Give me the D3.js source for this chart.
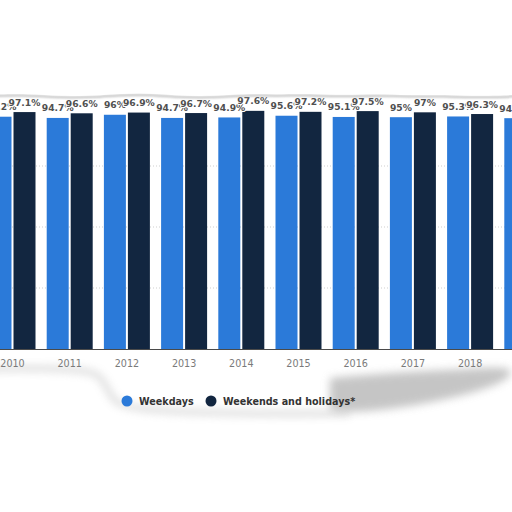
<!DOCTYPE html>
<html>
<head>
<meta charset="utf-8">
<script src="https://cdn.jsdelivr.net/npm/d3@7"></script>
<style>
  html, body { margin: 0; padding: 0; background: #fff; }
  svg { display: block; }
</style>
</head>
<body>
<div id="chart"></div>
<script>
const years = ['2010', '2011', '2012', '2013', '2014', '2015', '2016', '2017', '2018', '2019'];
const weekdays = [95.2, 94.7, 96, 94.7, 94.9, 95.6, 95.1, 95, 95.3, 94.6];
const weekends = [97.1, 96.6, 96.9, 96.7, 97.6, 97.2, 97.5, 97, 96.3, null];
const seriesNames = ['Weekdays', 'Weekends and holidays*'];
const gridTicks = [25, 50, 75];

const width = 512;
const height = 512;
const colors = ['#2b7ad9', '#122640'];
const font = 'DejaVu Sans, Verdana, sans-serif';

const svg = d3.select('#chart')
  .append('svg')
  .attr('width', width)
  .attr('height', height);

const defs = svg.append('defs');
defs.append('filter').attr('id', 'soft')
  .attr('x', '-20%').attr('y', '-50%').attr('width', '140%').attr('height', '200%')
  .append('feGaussianBlur').attr('stdDeviation', 4);
defs.append('filter').attr('id', 'thin')
  .attr('x', '-10%').attr('y', '-100%').attr('width', '120%').attr('height', '300%')
  .append('feGaussianBlur').attr('stdDeviation', 1.2);

// torn paper shadows (decoration)
const line = d3.line().curve(d3.curveBasis);
const shadows = svg.append('g');
shadows.append('path')
  .attr('d', line([[-10, 369], [40, 368], [80, 370], [98, 373], [106, 386], [112, 398], [122, 408], [200, 413], [300, 414], [350, 413]]))
  .attr('fill', 'none').attr('stroke', '#a5a5a5').attr('stroke-width', 5)
  .attr('opacity', 0.45).attr('filter', 'url(#soft)');
shadows.append('path')
  .attr('d', line([[330, 378], [400, 372], [470, 369], [515, 366], [510, 380], [470, 394], [420, 405], [360, 413], [330, 410]]) + 'Z')
  .attr('fill', '#adadad').attr('opacity', 0.7).attr('filter', 'url(#soft)');

const y = d3.scaleLinear().domain([0, 100]).range([349, 105]);
const step = 57.2;
const x0 = d3.scaleBand().domain(years)
  .range([12.5 - step / 2, 12.5 - step / 2 + step * years.length])
  .paddingInner(0).paddingOuter(0);
const x1 = d3.scaleBand().domain(seriesNames)
  .range([(step - 46) / 2, (step + 46) / 2])
  .paddingInner(2 / 24);

// gridlines
svg.append('g').selectAll('line')
  .data(gridTicks)
  .enter()
  .append('line')
  .attr('x1', 0).attr('x2', width)
  .attr('y1', d => y(d)).attr('y2', d => y(d))
  .attr('stroke', '#cfcfcf')
  .attr('stroke-dasharray', '1,2');

const groups = svg.append('g').selectAll('g')
  .data(years.map((yr, i) => ({ yr, vals: [weekdays[i], weekends[i]] })))
  .enter()
  .append('g')
  .attr('transform', d => `translate(${x0(d.yr)},0)`);

groups.selectAll('rect')
  .data(d => d.vals.map((v, k) => ({ v, k })).filter(e => e.v != null))
  .enter()
  .append('rect')
  .attr('x', e => x1(seriesNames[e.k]))
  .attr('width', x1.bandwidth())
  .attr('y', e => y(e.v))
  .attr('height', e => y(0) - y(e.v))
  .attr('fill', e => colors[e.k]);

groups.selectAll('text')
  .data(d => d.vals.map((v, k) => ({ v, k })).filter(e => e.v != null))
  .enter()
  .append('text')
  .attr('x', e => x1(seriesNames[e.k]) + x1.bandwidth() / 2)
  .attr('y', e => y(e.v) - 6.5)
  .attr('text-anchor', 'middle')
  .attr('font-family', font)
  .attr('font-size', '9.2px')
  .attr('font-weight', 'bold')
  .attr('fill', '#505050')
  .attr('stroke', '#fff')
  .attr('stroke-width', 2.2)
  .attr('paint-order', 'stroke')
  .text(e => `${e.v}%`);

// baseline
svg.append('line')
  .attr('x1', 0).attr('x2', width)
  .attr('y1', y(0) + 0.5).attr('y2', y(0) + 0.5)
  .attr('stroke', '#4a4a4a');

svg.append('g').selectAll('text')
  .data(years)
  .enter()
  .append('text')
  .attr('x', d => x0(d) + step / 2)
  .attr('y', 367)
  .attr('text-anchor', 'middle')
  .attr('font-family', font)
  .attr('font-size', '9.6px')
  .attr('fill', '#7a7a7a')
  .text(d => d);

// legend
const legendX = [127, 211];
const legend = svg.append('g').selectAll('g')
  .data(seriesNames)
  .enter()
  .append('g')
  .attr('transform', (d, i) => `translate(${legendX[i]},401)`);
legend.append('circle').attr('r', 5.5).attr('fill', (d, i) => colors[i]);
legend.append('text')
  .attr('x', 12).attr('y', 3.5)
  .attr('font-family', font)
  .attr('font-size', '9.6px')
  .attr('font-weight', 'bold')
  .attr('fill', '#333')
  .text(d => d);

// top torn edge
const topEdge = [[-10, 96], [30, 95], [60, 98], [100, 97], [140, 94], [175, 97], [210, 98], [245, 95], [275, 96], [310, 95], [345, 97], [375, 95], [410, 97], [445, 96], [480, 98], [522, 96]];
svg.append('path')
  .attr('d', line(topEdge))
  .attr('fill', 'none').attr('stroke', '#aaa').attr('stroke-width', 1.5)
  .attr('filter', 'url(#thin)');
svg.append('path')
  .attr('d', line(topEdge.map(p => [p[0], p[1] - 1.5])) + 'L522,-5L-10,-5Z')
  .attr('fill', '#fff');
</script>
</body>
</html>
